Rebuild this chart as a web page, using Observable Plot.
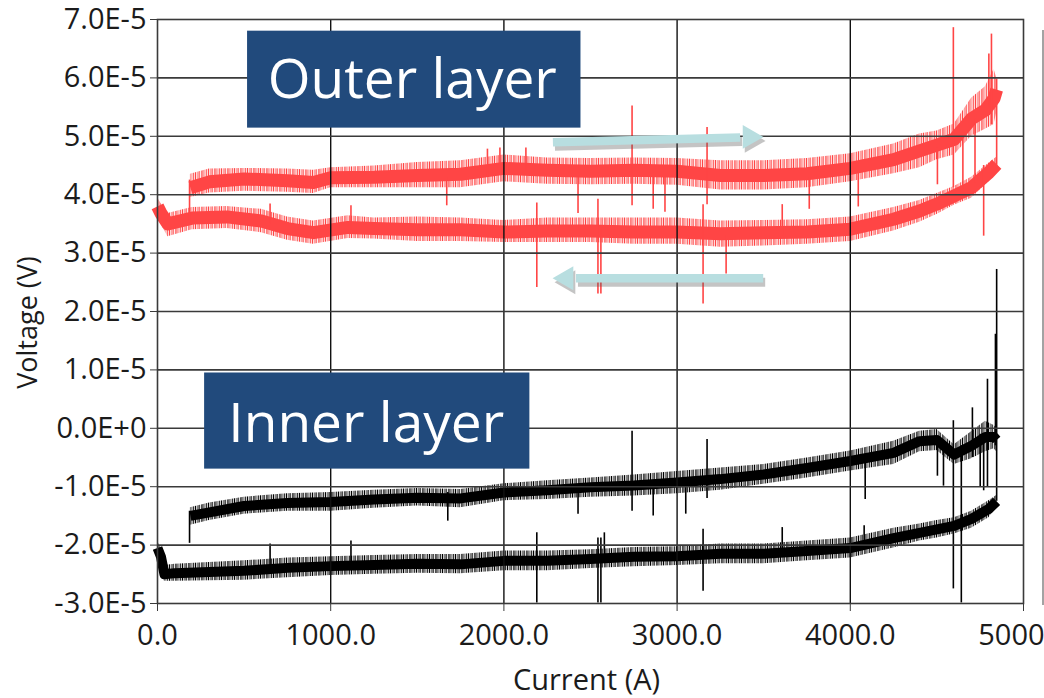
<!DOCTYPE html>
<html>
<head>
<meta charset="utf-8">
<script src="https://cdn.jsdelivr.net/npm/d3@7"></script>
<script src="https://cdn.jsdelivr.net/npm/@observablehq/plot@0.6"></script>
<style>
  html, body { margin: 0; padding: 0; background: #fff; overflow: hidden; }
  #wrap { position: relative; width: 1044px; height: 698px; overflow: hidden; }
  #legendEdge { position: absolute; left: 1042px; top: 30px; width: 2px; height: 575px; background: #a3a3a3; }
</style>
</head>
<body>
<div id="wrap"><div id="legendEdge"></div></div>
<script>
// Values in units of 1E-5 V; current in A.
const xTicks = [0, 1000, 2000, 3000, 4000, 5000];
const yTicks = [-3, -2, -1, 0, 1, 2, 3, 4, 5, 6, 7];

// [current, low envelope, core, high envelope]
const outerUp = [
  [190, 3.95, 4.12, 4.35], [300, 4.03, 4.22, 4.44], [500, 4.06, 4.27, 4.45],
  [750, 4.04, 4.24, 4.44], [900, 4.02, 4.21, 4.42], [1000, 4.12, 4.29, 4.46],
  [1250, 4.12, 4.30, 4.49], [1500, 4.12, 4.33, 4.55], [1750, 4.12, 4.35, 4.58],
  [2000, 4.22, 4.45, 4.68], [2250, 4.18, 4.42, 4.63], [2500, 4.17, 4.40, 4.62],
  [2750, 4.18, 4.42, 4.63], [3000, 4.16, 4.40, 4.62], [3250, 4.08, 4.33, 4.58],
  [3500, 4.08, 4.33, 4.58], [3750, 4.12, 4.36, 4.62], [4000, 4.22, 4.45, 4.70],
  [4250, 4.36, 4.60, 4.87], [4400, 4.46, 4.75, 5.04], [4500, 4.60, 4.85, 5.09],
  [4600, 4.68, 4.95, 5.21], [4700, 5.00, 5.30, 5.65], [4780, 5.12, 5.45, 5.85],
  [4830, 5.20, 5.65, 6.15], [4845, 5.40, 5.80, 6.00]
];
const outerDown = [
  [0, 3.62, 3.80, 3.95], [20, 3.50, 3.68, 3.85], [60, 3.28, 3.50, 3.68],
  [200, 3.40, 3.60, 3.78], [400, 3.42, 3.62, 3.80], [600, 3.35, 3.55, 3.75],
  [750, 3.22, 3.42, 3.62], [900, 3.15, 3.35, 3.55], [1100, 3.25, 3.44, 3.64],
  [1250, 3.24, 3.42, 3.60], [1500, 3.20, 3.40, 3.62], [1750, 3.20, 3.40, 3.60],
  [2000, 3.18, 3.36, 3.56], [2250, 3.18, 3.38, 3.60], [2500, 3.18, 3.38, 3.60],
  [2750, 3.15, 3.36, 3.60], [3000, 3.15, 3.36, 3.60], [3250, 3.10, 3.33, 3.55],
  [3500, 3.12, 3.35, 3.56], [3750, 3.15, 3.36, 3.57], [4000, 3.20, 3.41, 3.62],
  [4250, 3.38, 3.58, 3.78], [4400, 3.53, 3.72, 3.90], [4500, 3.66, 3.84, 4.02],
  [4600, 3.82, 3.98, 4.14], [4700, 3.94, 4.12, 4.30], [4800, 4.22, 4.38, 4.54],
  [4845, 4.40, 4.52, 4.64]
];
const innerUp = [
  [190, -1.66, -1.50, -1.36], [300, -1.58, -1.44, -1.28], [500, -1.47, -1.33, -1.18],
  [750, -1.42, -1.28, -1.12], [1000, -1.42, -1.26, -1.10], [1250, -1.37, -1.22, -1.06],
  [1500, -1.33, -1.19, -1.03], [1750, -1.36, -1.20, -1.05], [2000, -1.24, -1.10, -0.95],
  [2250, -1.22, -1.06, -0.90], [2500, -1.18, -1.01, -0.85], [2750, -1.16, -0.98, -0.80],
  [3000, -1.12, -0.93, -0.74], [3250, -1.06, -0.87, -0.68], [3500, -0.96, -0.79, -0.62],
  [3750, -0.85, -0.68, -0.51], [4000, -0.73, -0.56, -0.39], [4250, -0.62, -0.42, -0.22],
  [4400, -0.40, -0.22, -0.05], [4500, -0.38, -0.20, -0.02], [4600, -0.62, -0.45, -0.28],
  [4700, -0.52, -0.30, -0.06], [4780, -0.40, -0.15, 0.12], [4830, -0.35, -0.15, 0.05],
  [4845, -0.40, -0.20, 0.00]
];
const innerDown = [
  [0, -2.22, -2.05, -1.93], [20, -2.35, -2.20, -2.05], [40, -2.62, -2.50, -2.35],
  [100, -2.62, -2.48, -2.33], [300, -2.61, -2.46, -2.30], [500, -2.60, -2.44, -2.27],
  [750, -2.56, -2.39, -2.22], [1000, -2.52, -2.36, -2.20], [1250, -2.50, -2.34, -2.18],
  [1500, -2.48, -2.32, -2.16], [1750, -2.49, -2.33, -2.16], [2000, -2.44, -2.27, -2.10],
  [2250, -2.44, -2.27, -2.10], [2500, -2.40, -2.24, -2.08], [2750, -2.37, -2.20, -2.04],
  [3000, -2.35, -2.19, -2.03], [3250, -2.32, -2.15, -1.98], [3500, -2.32, -2.15, -1.98],
  [3750, -2.27, -2.10, -1.93], [4000, -2.22, -2.05, -1.88], [4250, -2.05, -1.88, -1.71],
  [4400, -1.93, -1.79, -1.64], [4500, -1.88, -1.73, -1.58], [4600, -1.81, -1.67, -1.53],
  [4700, -1.71, -1.55, -1.42], [4800, -1.53, -1.38, -1.24], [4845, -1.35, -1.25, -1.15]
];

// [current, from, to] — individual spikes / jumps
const redSpikes = [
  [185, 3.55, 4.25], [4845, 4.45, 5.98], [4595, 4.12, 6.86], [4815, 5.20, 6.75],
  [4800, 5.50, 6.41], [4770, 3.29, 4.50], [4650, 4.10, 5.00], [4720, 4.20, 5.30],
  [2740, 3.81, 5.52], [3173, 3.83, 5.15], [1670, 3.81, 4.30], [2428, 3.68, 4.30],
  [2862, 3.75, 4.30], [2930, 3.70, 4.30], [3763, 3.75, 4.30], [4046, 3.79, 4.40],
  [4503, 4.17, 4.80], [1905, 4.30, 4.78], [2127, 4.40, 4.80], [1977, 4.40, 4.80],
  [2190, 2.41, 3.86], [2543, 2.30, 3.92], [2560, 2.30, 3.40], [3150, 2.13, 3.83],
  [3283, 2.64, 3.30], [3607, 3.30, 3.83], [1117, 3.40, 3.81], [650, 3.50, 3.84]
];
const blackSpikes = [
  [185, -1.97, -1.42], [4845, -1.25, 2.72], [4838, -0.30, 1.61], [4792, -1.00, 0.84],
  [4705, -0.50, 0.35], [4641, -2.99, -0.30], [4595, -2.75, 0.13], [2740, -1.42, -0.05],
  [3173, -1.20, -0.19], [1676, -1.59, -1.10], [2428, -1.47, -1.00], [2862, -1.50, -1.00],
  [3050, -1.47, -0.90], [4086, -1.22, -0.60], [4503, -0.82, -0.20], [4770, -1.07, -0.20],
  [4538, -0.99, -0.40], [4750, -1.00, -0.10],
  [2190, -2.99, -1.79], [2543, -2.99, -1.88], [2560, -2.99, -1.88], [2580, -2.30, -1.79],
  [3150, -2.79, -1.73], [3607, -2.20, -1.70], [4080, -2.00, -1.67], [650, -2.40, -1.98],
  [1117, -2.30, -1.93]
];

// Annotation boxes: [label, x1, x2, yTop, yBottom, textX, textY]
const boxes = [
  ["Outer layer", 520, 2445, 6.80, 5.14, 1471, 5.95],
  ["Inner layer", 272, 2150, 0.947, -0.699, 1205, 0.07]
];
// Direction arrows: [tailX, headBaseX, tipX, tailY, tipY, direction]
const arrows = [
  [2283, 3364, 3497, 4.90, 4.99, 1],
  [3497, 2416, 2283, 2.57, 2.57, -1]
];

const RED = "#ff4545";
const ARROW = "#b8dee0";
const BOX = "#214a7c";
const GRID = "#3a3a3a";
const FONT = "'Open Sans', 'Noto Sans', sans-serif";

function branchMarks(data, color, pattern, coreWidth) {
  return [
    Plot.areaY(data, {x: d => d[0], y1: d => d[1], y2: d => d[3], fill: `url(#${pattern})`}),
    Plot.line(data, {x: d => d[0], y: d => d[2], stroke: color, strokeWidth: coreWidth, strokeLinejoin: "round", strokeLinecap: "butt"})
  ];
}

const shaft = arrows.map(a => ({x1: a[0], x2: a[1], y1: a[3], y2: a[3] + (a[4] - a[3]) * (a[1] - a[0]) / (a[2] - a[0])}));
const heads = arrows.map(a => ({x: a[2], y: a[4], dir: a[5]}));
const headR = heads.filter(h => h.dir > 0), headL = heads.filter(h => h.dir < 0);

const plot = Plot.plot({
  width: 1044, height: 698,
  marginLeft: 157, marginRight: 21, marginTop: 19, marginBottom: 95,
  style: {fontFamily: FONT, color: "#1b1b1b", background: "white", overflow: "hidden"},
  x: {domain: [0, 5000]},
  y: {domain: [-3, 7]},
  marks: [
    ...branchMarks(outerUp, RED, "hairRed", 13),
    ...branchMarks(outerDown, RED, "hairRed", 13),
    ...branchMarks(innerUp, "#000", "hairBlack", 10),
    ...branchMarks(innerDown, "#000", "hairBlack", 10),
    Plot.ruleX(redSpikes, {x: d => d[0], y1: d => d[1], y2: d => d[2], stroke: RED, strokeWidth: 1.6}),
    Plot.ruleX(blackSpikes, {x: d => d[0], y1: d => d[1], y2: d => d[2], stroke: "#000", strokeWidth: 1.6}),
    Plot.gridX({ticks: xTicks.slice(1, -1), stroke: "#111", strokeOpacity: 1, strokeWidth: 1.4}),
    Plot.gridY({ticks: yTicks.slice(1, -1), stroke: GRID, strokeOpacity: 1, strokeWidth: 1.6}),
    Plot.frame({stroke: GRID, strokeWidth: 1.6}),
    Plot.rect(boxes, {x1: d => d[1], x2: d => d[2], y1: d => d[4], y2: d => d[3], fill: BOX}),
    Plot.text(boxes, {x: d => d[5], y: d => d[6], text: d => d[0], fill: "white", fontSize: 55, fontFamily: FONT}),
    Plot.link(shaft, {x1: "x1", y1: "y1", x2: "x2", y2: "y2", stroke: "#555", strokeOpacity: 0.35, strokeWidth: 9, dx: 2, dy: 4, ariaLabel: "arrow-shadow"}),
    Plot.dot(headR, {x: "x", y: "y", symbol: "triangle", r: 8.9, rotate: 90, fill: "#555", fillOpacity: 0.35, stroke: "none", dx: -11.5, dy: 4, ariaLabel: "arrow-shadow"}),
    Plot.dot(headL, {x: "x", y: "y", symbol: "triangle", r: 8.9, rotate: -90, fill: "#555", fillOpacity: 0.35, stroke: "none", dx: 15.5, dy: 4, ariaLabel: "arrow-shadow"}),
    Plot.link(shaft, {x1: "x1", y1: "y1", x2: "x2", y2: "y2", stroke: ARROW, strokeWidth: 8.5}),
    Plot.dot(headR, {x: "x", y: "y", symbol: "triangle", r: 8.9, rotate: 90, fill: ARROW, stroke: "none", dx: -13.5}),
    Plot.dot(headL, {x: "x", y: "y", symbol: "triangle", r: 8.9, rotate: -90, fill: ARROW, stroke: "none", dx: 13.5}),
    Plot.axisX({ticks: xTicks, tickFormat: d3.format(".1f"), tickSize: 8, tickPadding: 13, fontSize: 29, label: null, stroke: GRID}),
    Plot.axisY({ticks: yTicks, tickFormat: d => d === 0 ? "0.0E+0" : `${d.toFixed(1)}E-5`, tickSize: 7, tickPadding: 4, fontSize: 29, label: null, stroke: GRID}),
    Plot.text(["Voltage (V)"], {frameAnchor: "left", textAnchor: "middle", lineAnchor: "middle", dx: -129, dy: 11, rotate: -90, fontSize: 27, fill: "#1b1b1b"}),
    Plot.text(["Current (A)"], {frameAnchor: "bottom", textAnchor: "middle", lineAnchor: "middle", dx: -4, dy: 77, fontSize: 29, fill: "#1b1b1b"})
  ]
});

document.getElementById("wrap").prepend(plot);

const svg = d3.select(plot);
const defs = svg.insert("defs", ":first-child");
const f = defs.append("filter").attr("id", "arrowBlur")
  .attr("x", "-20%").attr("y", "-50%").attr("width", "140%").attr("height", "200%");
f.append("feGaussianBlur").attr("stdDeviation", 2.5);
svg.selectAll('g[aria-label="arrow-shadow"]').attr("filter", "url(#arrowBlur)");
// hair-like noise texture for the signal envelopes
const hairs = [[0, 1.0], [1.8, 0.7], [3.5, 1.2], [5.9, 0.8], [7.4, 1.1], [9.6, 0.7], [11.2, 1.0]];
[["hairRed", RED], ["hairBlack", "#000"]].forEach(([id, c]) => {
  const p = defs.append("pattern").attr("id", id).attr("patternUnits", "userSpaceOnUse").attr("width", 13).attr("height", 40);
  hairs.forEach(([x, w]) => p.append("rect").attr("x", x).attr("y", 0).attr("width", w).attr("height", 40).attr("fill", c));
});
</script>
</body>
</html>
